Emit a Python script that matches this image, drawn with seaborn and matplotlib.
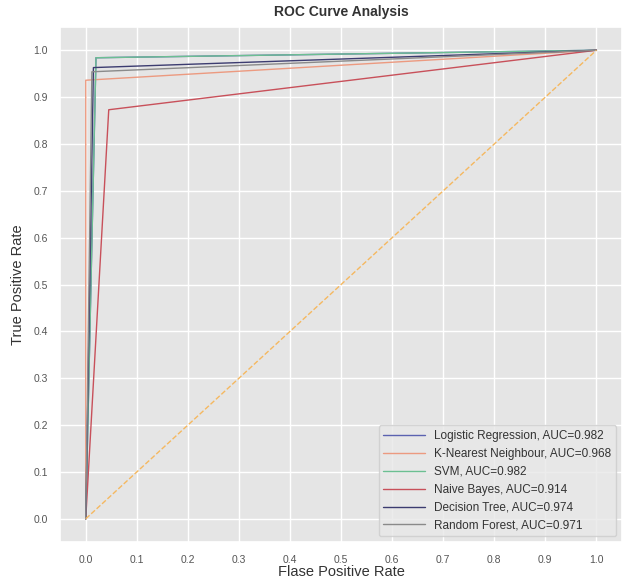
import pandas as pd
import matplotlib
matplotlib.use("Agg")
import matplotlib.pyplot as plt
import seaborn as sns

models = ["Logistic Regression", "K-Nearest Neighbour", "SVM",
          "Naive Bayes", "Decision Tree", "Random Forest"]
auc = [0.982, 0.968, 0.982, 0.914, 0.974, 0.971]
fpr = [[0.0, 0.020, 1.0],
       [0.0, 0.000, 1.0],
       [0.0, 0.020, 1.0],
       [0.0, 0.045, 1.0],
       [0.0, 0.015, 1.0],
       [0.0, 0.012, 1.0]]
tpr = [[0.0, 0.984, 1.0],
       [0.0, 0.936, 1.0],
       [0.0, 0.984, 1.0],
       [0.0, 0.873, 1.0],
       [0.0, 0.963, 1.0],
       [0.0, 0.954, 1.0]]
colors = ["#5b62b0", "#ec9a80", "#6cbf92", "#c8505a", "#3c3c70", "#8a8a8a"]
ticks = [0.0, 0.1, 0.2, 0.3, 0.4, 0.5, 0.6, 0.7, 0.8, 0.9, 1.0]

sns.set_theme(style="darkgrid", rc={"axes.facecolor": "#E5E5E5",
                                    "grid.color": "white"})
plt.rcParams['font.family'] = ['Liberation Sans', 'DejaVu Sans']

fig = plt.figure(figsize=(6.34, 5.83), dpi=100)
ax = fig.add_axes([0.095, 0.07, 0.886, 0.884])

# one line per model, built from the roc points
for i, m in enumerate(models):
    df = pd.DataFrame({"fpr": fpr[i], "tpr": tpr[i]})
    sns.lineplot(x="fpr", y="tpr", data=df, ax=ax, sort=False, estimator=None,
                 color=colors[i], linewidth=1.0,
                 label="{}, AUC={:.3f}".format(m, auc[i]))

diag = pd.DataFrame({"x": [0, 1], "y": [0, 1]})
sns.lineplot(x="x", y="y", data=diag, ax=ax, color="#f5b860",
             linestyle="--", linewidth=1.0)

ax.set_xticks(ticks)
ax.set_yticks(ticks)
ax.set_xticklabels([f"{t:.1f}" for t in ticks])
ax.set_yticklabels([f"{t:.1f}" for t in ticks])
ax.tick_params(labelsize=7.5, colors="#555555", pad=3)
ax.set_xlabel("Flase Positive Rate", fontsize=10.5, color="#333333", labelpad=0)
ax.set_ylabel("True Positive Rate", fontsize=10.5, color="#333333", labelpad=6)
ax.set_title("ROC Curve Analysis", fontweight="bold", fontsize=10,
             color="#333333", pad=8)
ax.legend(loc="lower right", fontsize=8.5, facecolor="#E8E8E8",
          framealpha=0.8, handlelength=3.5, labelcolor="#333333")

plt.savefig("out.png", dpi=100)
